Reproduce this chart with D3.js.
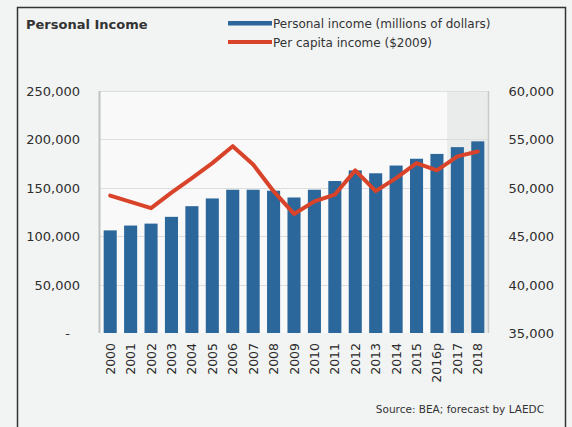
<!DOCTYPE html>
<html><head><meta charset="utf-8">
<script src="https://cdn.jsdelivr.net/npm/d3@7"></script>
<style>
html,body{margin:0;padding:0;background:#fff;}
svg{display:block;font-family:"DejaVu Sans",sans-serif;}
</style></head>
<body><svg id="c" width="572" height="427"></svg>
<script>
const years = ["2000","2001","2002","2003","2004","2005","2006","2007","2008","2009","2010","2011","2012","2013","2014","2015","2016p","2017","2018"];
const personalIncome = [106000,111000,113000,120000,131000,139000,148000,148000,147000,140000,148000,157000,168000,165000,173000,180000,185000,192000,198000];
const perCapita = [49200,48550,47900,49500,51000,52550,54300,52400,49650,47300,48600,49300,51800,49650,51000,52550,51800,53250,53750];
const leftTicks = [0,50000,100000,150000,200000,250000];
const rightTicks = [35000,40000,45000,50000,55000,60000];
const forecastYears = ["2017","2018"];

const svg = d3.select("#c");
const W=572,H=427;
svg.append("rect").attr("width",W).attr("height",H).attr("fill","#f2f4f3");
svg.append("path").attr("d","M17.5,427 V7.5 H565.5 V427").attr("fill","none").attr("stroke","#333").attr("stroke-width",1.5);

const m={l:100,r:488,t:91,b:333};
const x=d3.scaleBand().domain(years).range([m.l,m.r]).paddingInner(0.36).paddingOuter(0.18);
const yL=d3.scaleLinear().domain([0,250000]).range([m.b,m.t]);
const yR=d3.scaleLinear().domain([35000,60000]).range([m.b,m.t]);

svg.append("rect").attr("x",m.l).attr("y",m.t).attr("width",m.r-m.l).attr("height",m.b-m.t).attr("fill","#f8f9f8");
const step=x.step();
const fx0=x(forecastYears[0])-(step-x.bandwidth())/2;
svg.append("rect").attr("x",fx0).attr("y",m.t).attr("width",m.r-fx0).attr("height",m.b-m.t).attr("fill","#e9ecea");

svg.append("g").selectAll("line").data(leftTicks.slice(1)).join("line")
 .attr("x1",m.l).attr("x2",m.r).attr("y1",d=>Math.round(yL(d))+0.5).attr("y2",d=>Math.round(yL(d))+0.5)
 .attr("stroke","#dcdedd").attr("stroke-width",1.2);

svg.append("line").attr("x1",m.l-0.5).attr("x2",m.l-0.5).attr("y1",m.t).attr("y2",m.b).attr("stroke","#bfc2c1").attr("stroke-width",2);
svg.append("line").attr("x1",m.r+0.5).attr("x2",m.r+0.5).attr("y1",m.t).attr("y2",m.b).attr("stroke","#c8cbca").attr("stroke-width",1.5);

svg.append("g").selectAll("rect").data(years).join("rect")
 .attr("x",d=>x(d)).attr("width",x.bandwidth())
 .attr("y",(d,i)=>yL(personalIncome[i])).attr("height",(d,i)=>yL(0)-yL(personalIncome[i]))
 .attr("fill","#2b679b");

const line=d3.line().x((d,i)=>x(years[i])+x.bandwidth()/2).y(d=>yR(d));
svg.append("path").datum(perCapita).attr("d",line).attr("fill","none")
 .attr("stroke","#d8432a").attr("stroke-width",4).attr("stroke-linejoin","round").attr("stroke-linecap","round");

const fmt=d3.format(",");
const gL=svg.append("g").attr("transform",`translate(80,0)`)
 .call(d3.axisLeft(yL).tickValues(leftTicks).tickSize(0).tickPadding(0).tickFormat(d=>d===0?"-":fmt(d)));
gL.select(".domain").remove();
gL.selectAll("text").attr("font-size",13).attr("fill","#2e2e2e").attr("font-family","DejaVu Sans").attr("dy","0.35em")
 .filter(d=>d===0).attr("dx",-10);

const gR=svg.append("g").attr("transform",`translate(554,0)`)
 .call(d3.axisLeft(yR).tickValues(rightTicks).tickSize(0).tickPadding(0).tickFormat(fmt));
gR.select(".domain").remove();
gR.selectAll("text").attr("font-size",13).attr("fill","#2e2e2e").attr("font-family","DejaVu Sans").attr("dy","0.35em");

const gX=svg.append("g").attr("transform",`translate(0,${m.b+10})`)
 .call(d3.axisBottom(x).tickSize(0).tickPadding(0));
gX.select(".domain").remove();
gX.selectAll("text").attr("font-size",12.5).attr("fill","#2a2a2a").attr("font-family","DejaVu Sans")
 .attr("text-anchor","end").attr("transform","rotate(-90)").attr("dy","0.36em").attr("x",0).attr("y",0);

svg.append("text").attr("x",26).attr("y",29).attr("font-size",13).attr("font-weight","bold").attr("fill","#333").text("Personal Income");
svg.append("rect").attr("x",228).attr("y",21).attr("width",44).attr("height",4.5).attr("fill","#2b679b");
svg.append("text").attr("x",273).attr("y",27.5).attr("font-size",12).attr("fill","#333").text("Personal income (millions of dollars)");
svg.append("rect").attr("x",228).attr("y",40).attr("width",44).attr("height",4).attr("fill","#d8432a");
svg.append("text").attr("x",273).attr("y",46.5).attr("font-size",12).attr("fill","#333").text("Per capita income ($2009)");
svg.append("text").attr("x",544).attr("y",413).attr("text-anchor","end").attr("font-size",10.5).attr("fill","#333").text("Source: BEA; forecast by LAEDC");
</script></body></html>
